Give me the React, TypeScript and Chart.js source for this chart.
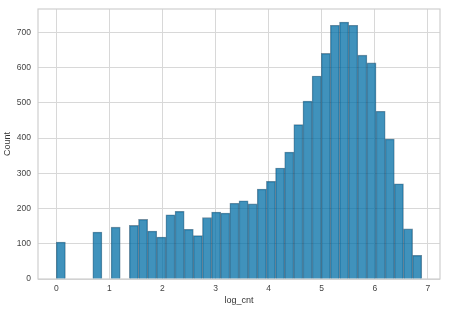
import React, { useEffect, useRef } from "react";
import { Chart, registerables } from "chart.js";

Chart.register(...registerables);

// Histogram of log_cnt: 40 equal-width bins from BIN_MIN to BIN_MAX
const BIN_MIN = 0;
const BIN_MAX = 6.884;
const counts = [
  105, 0, 0, 0, 133, 0, 147, 0, 152, 169,
  136, 119, 182, 192, 141, 123, 174, 190, 187, 215,
  222, 213, 255, 277, 315, 360, 438, 505, 576, 640,
  720, 729, 720, 635, 613, 476, 397, 270, 142, 67,
];
const xTicks = [0, 1, 2, 3, 4, 5, 6, 7];
const yTicks = [0, 100, 200, 300, 400, 500, 600, 700];
const X_MIN = -0.344;
const X_MAX = 7.228;
const Y_MAX = 766;
const X_LABEL = "log_cnt";
const Y_LABEL = "Count";

const FONT = "'Liberation Sans', Arial, sans-serif";

export default function App() {
  const ref = useRef<HTMLCanvasElement | null>(null);

  useEffect(() => {
    document.body.style.margin = "0";
    const canvas = ref.current;
    if (!canvas) return;
    const binW = (BIN_MAX - BIN_MIN) / counts.length;
    const points = counts.map((c, i) => ({ x: BIN_MIN + binW * (i + 0.5), y: c }));

    const framePlugin = {
      id: "frame",
      beforeDatasetsDraw(chart: any) {
        const { ctx, chartArea } = chart;
        const { left, top, right, bottom } = chartArea;
        ctx.save();
        ctx.strokeStyle = "#cfcfcf";
        ctx.lineWidth = 1.2;
        ctx.strokeRect(left, top, right - left, bottom - top);
        ctx.restore();
      },
    };

    const chart = new Chart(canvas, {
      type: "bar",
      data: {
        datasets: [
          {
            data: points as any,
            backgroundColor: "rgba(0,110,165,0.75)",
            borderColor: "rgba(25,70,100,0.6)",
            borderWidth: 0.8,
            borderSkipped: "bottom",
            barPercentage: 1,
            categoryPercentage: 1,
          },
        ],
      },
      options: {
        animation: false,
        responsive: false,
        maintainAspectRatio: false,
        layout: { padding: { top: 9, right: 11, left: 0, bottom: 0 } },
        plugins: { legend: { display: false }, tooltip: { enabled: false } },
        scales: {
          x: {
            type: "linear",
            min: X_MIN,
            max: X_MAX,
            offset: false,
            grid: { offset: false, color: "#d8d8d8", lineWidth: 1, drawTicks: false },
            border: { display: false },
            afterBuildTicks: (s: any) => {
              s.ticks = xTicks.map((v) => ({ value: v }));
            },
            afterFit: (s: any) => {
              s.height = 34;
              s.paddingLeft = 0;
              s.paddingRight = 0;
            },
            ticks: {
              padding: 5,
              color: "#444",
              font: { family: FONT, size: 8.5 },
              maxRotation: 0,
              callback: (v: any) => String(v),
            },
            title: {
              display: true,
              text: X_LABEL,
              color: "#333",
              font: { family: FONT, size: 9 },
              padding: { top: 0, bottom: 7 },
            },
          },
          y: {
            type: "linear",
            min: 0,
            max: Y_MAX,
            grid: { color: "#d8d8d8", lineWidth: 1, drawTicks: false },
            border: { display: false },
            afterBuildTicks: (s: any) => {
              s.ticks = yTicks.map((v) => ({ value: v }));
            },
            afterFit: (s: any) => {
              s.width = 38;
              s.paddingTop = 0;
              s.paddingBottom = 0;
            },
            ticks: {
              padding: 7,
              color: "#444",
              font: { family: FONT, size: 8.5 },
              callback: (v: any) => String(v),
            },
            title: {
              display: true,
              text: Y_LABEL,
              color: "#333",
              font: { family: FONT, size: 9 },
              padding: { top: 2.5, bottom: 0 },
            },
          },
        },
      },
      plugins: [framePlugin],
    });
    return () => chart.destroy();
  }, []);

  return (
    <div style={{ width: 451, height: 313 }}>
      <canvas ref={ref} width={451} height={313} style={{ display: "block" }} />
    </div>
  );
}
